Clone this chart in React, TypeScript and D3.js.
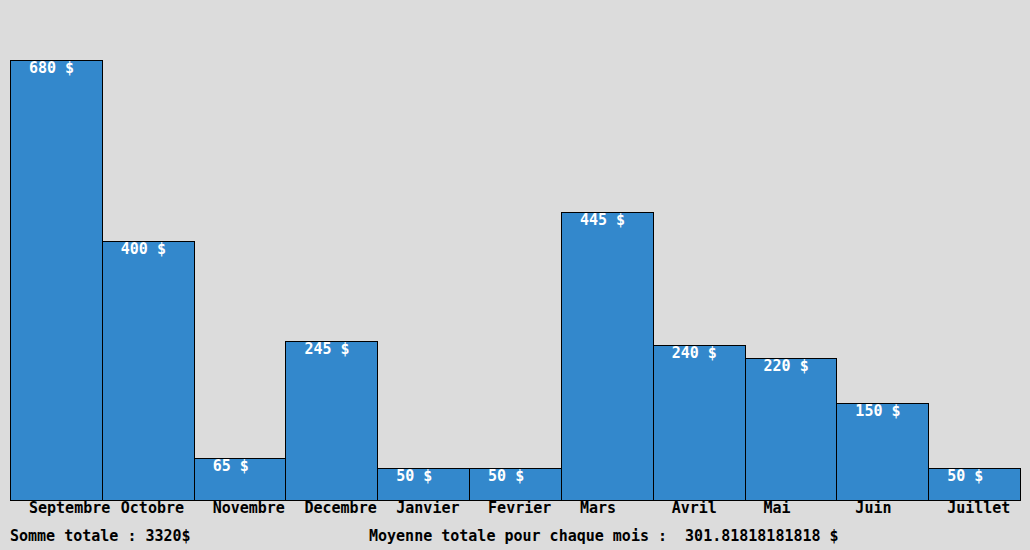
import React, { useEffect } from 'react';
import * as d3 from 'd3';

const months = ['Septembre', 'Octobre', 'Novembre', 'Decembre', 'Janvier', 'Fevrier', 'Mars', 'Avril', 'Mai', 'Juin', 'Juillet'];
const amounts = [680, 400, 65, 245, 50, 50, 445, 240, 220, 150, 50];
const totalLabel = 'Somme totale : 3320$';
const averageLabel = 'Moyenne totale pour chaque mois :  301.81818181818 $';

const width = 1030;
const height = 550;
const font = '"DejaVu Sans Mono", monospace';

const App: React.FC = () => {
  useEffect(() => {
    document.body.style.margin = '0';
  }, []);

  const x = d3.scaleBand<string>().domain(months).range([10, 1020]).padding(0);
  const y = d3.scaleLinear().domain([0, 680]).range([500, 60]);

  return (
    <svg width={width} height={height} style={{ display: 'block', background: '#dcdcdc' }}>
      {months.map((m, i) => (
        <g key={m}>
          <rect
            x={x(m)! + 0.5}
            y={y(amounts[i]) + 0.5}
            width={x.bandwidth()}
            height={y(0) - y(amounts[i])}
            fill="#3388cc"
            stroke="#000"
            strokeWidth={1}
            shapeRendering="crispEdges"
          />
          <text x={x(m)! + 19} y={y(amounts[i]) + 13} fill="#fff" fontFamily={font} fontSize={15} fontWeight="bold">
            {amounts[i] + ' $'}
          </text>
          <text x={x(m)! + 19} y={513} fill="#000" fontFamily={font} fontSize={15} fontWeight="bold">
            {m}
          </text>
        </g>
      ))}
      <text x={10} y={541} fill="#000" fontFamily={font} fontSize={15} fontWeight="bold" xmlSpace="preserve" style={{ whiteSpace: 'pre' }}>
        {totalLabel}
      </text>
      <text x={369} y={541} fill="#000" fontFamily={font} fontSize={15} fontWeight="bold" xmlSpace="preserve" style={{ whiteSpace: 'pre' }}>
        {averageLabel}
      </text>
    </svg>
  );
};

export default App;
